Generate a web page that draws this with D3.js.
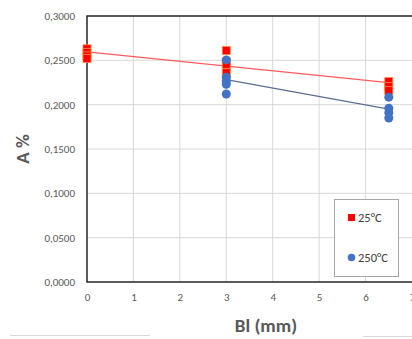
<html>
<head>
<script src="https://d3js.org/d3.v7.min.js"></script>
<style>
  body { margin: 0; background: #fff; }
  text { font-family: Calibri, Carlito, "Liberation Sans", Arial, sans-serif; }
  .tick text { fill: #595959; font-size: 11px; }
  .grid line { stroke: #d9d9d9; }
</style>
</head>
<body>
<svg width="412" height="339"></svg>
<script>
// 25°C measurements
const x25 = [0, 0, 0, 0, 3, 3, 3, 3, 6.5, 6.5, 6.5];
const y25 = [0.263, 0.259, 0.255, 0.252, 0.261, 0.248, 0.245, 0.236, 0.226, 0.2205, 0.216];
// 250°C measurements
const x250 = [3, 3, 3, 3, 3, 6.5, 6.5, 6.5, 6.5];
const y250 = [0.2505, 0.231, 0.227, 0.223, 0.212, 0.2085, 0.196, 0.191, 0.185];
// trend lines
const trend25 = [[0, 0.2596], [6.5, 0.2248]];
const trend250 = [[3, 0.2282], [6.5, 0.1950]];
const xTicks = [0, 1, 2, 3, 4, 5, 6, 7];
const yTicks = [0, 0.05, 0.1, 0.15, 0.2, 0.25, 0.3];

const svg = d3.select('svg');
const mLeft = 87, mRight = 412, mTop = 16, mBottom = 282;

const x = d3.scaleLinear().domain([0, 7]).range([mLeft, mRight]);
const y = d3.scaleLinear().domain([0, 0.3]).range([mBottom, mTop]);
const fmt = v => d3.format('.4f')(v).replace('.', ',');

// grid
const grid = svg.append('g').attr('class', 'grid');
grid.selectAll('line.h').data(yTicks.slice(1, -1)).join('line')
  .attr('class', 'h')
  .attr('x1', mLeft).attr('x2', mRight)
  .attr('y1', d => y(d)).attr('y2', d => y(d));
grid.selectAll('line.v').data(xTicks.slice(1, -1)).join('line')
  .attr('class', 'v')
  .attr('y1', mTop).attr('y2', mBottom)
  .attr('x1', d => x(d)).attr('x2', d => x(d));

// frame
svg.append('rect')
  .attr('x', mLeft).attr('y', mTop)
  .attr('width', mRight - mLeft + 2).attr('height', mBottom - mTop)
  .attr('fill', 'none').attr('stroke', '#262626').attr('stroke-width', 1.5);

// axes
svg.append('g')
  .attr('transform', `translate(${mLeft},0)`)
  .call(d3.axisLeft(y).tickValues(yTicks).tickFormat(fmt).tickSize(0).tickPadding(12))
  .call(g => g.select('.domain').remove());
svg.append('g')
  .attr('transform', `translate(0,${mBottom})`)
  .call(d3.axisBottom(x).tickValues(xTicks).tickFormat(d3.format('d')).tickSize(0).tickPadding(11))
  .call(g => g.select('.domain').remove());

// titles
svg.append('text')
  .attr('transform', `translate(29,${(mTop + mBottom) / 2}) rotate(-90)`)
  .attr('text-anchor', 'middle')
  .attr('font-size', 19).attr('font-weight', 'bold').attr('fill', '#595959')
  .text('A %');
svg.append('text')
  .attr('x', 266).attr('y', 332)
  .attr('text-anchor', 'middle')
  .attr('font-size', 19).attr('font-weight', 'bold').attr('fill', '#595959')
  .text('Bl (mm)');

// outer faint border bits
svg.append('line').attr('x1', 10).attr('x2', 150).attr('y1', 335.5).attr('y2', 335.5)
  .attr('stroke', '#d9d9d9');
svg.append('line').attr('x1', 363).attr('x2', 412).attr('y1', 336.5).attr('y2', 336.5)
  .attr('stroke', '#d9d9d9');

// trend lines
const line = d3.line().x(d => x(d[0])).y(d => y(d[1]));
svg.append('path').datum(trend25).attr('d', line)
  .attr('fill', 'none').attr('stroke', '#ff5b5b').attr('stroke-width', 1.2);
svg.append('path').datum(trend250).attr('d', line)
  .attr('fill', 'none').attr('stroke', '#5b6f94').attr('stroke-width', 1.2);

// points
const s = 8;
svg.append('g').selectAll('rect').data(d3.zip(x25, y25)).join('rect')
  .attr('x', d => x(d[0]) - s / 2).attr('y', d => y(d[1]) - s / 2)
  .attr('width', s).attr('height', s)
  .attr('fill', '#ff0000').attr('stroke', '#ff8a3d').attr('stroke-width', 0.8);
svg.append('g').selectAll('circle').data(d3.zip(x250, y250)).join('circle')
  .attr('cx', d => x(d[0])).attr('cy', d => y(d[1])).attr('r', 4.5)
  .attr('fill', '#4472c4');

// legend
const lg = svg.append('g');
lg.append('rect').attr('x', 334.5).attr('y', 199.5).attr('width', 64).attr('height', 77)
  .attr('fill', '#fff').attr('stroke', '#a6a6a6');
lg.append('rect').attr('x', 348).attr('y', 214).attr('width', 7).attr('height', 7).attr('fill', '#ff0000');
lg.append('text').attr('x', 358).attr('y', 222).attr('font-size', 12.5).attr('fill', '#404040').text('25°C');
lg.append('circle').attr('cx', 351.5).attr('cy', 257.5).attr('r', 3.8).attr('fill', '#4472c4');
lg.append('text').attr('x', 358).attr('y', 262).attr('font-size', 12.5).attr('fill', '#404040').text('250°C');
</script>
</body>
</html>
